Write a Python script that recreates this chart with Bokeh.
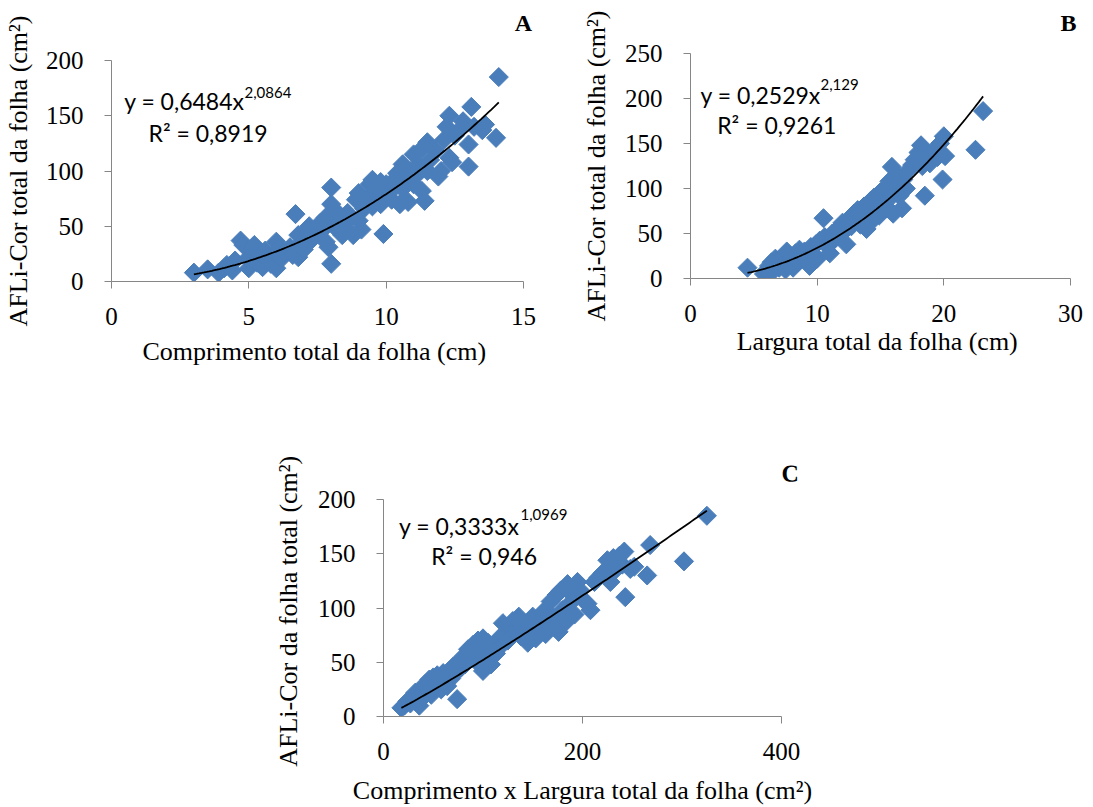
import numpy as np
from bokeh.plotting import figure
from bokeh.models import Range1d, FixedTicker, Label, Spacer, LinearAxis
from bokeh.layouts import column, row
from bokeh.embed import file_html
from bokeh.resources import INLINE

# ---------------- data ----------------
# Panel A: comprimento (cm) vs area (cm2)
a_x = [3.0, 3.5, 3.9, 4.1, 4.2, 4.4, 4.5, 4.7, 4.8, 5.0, 5.0, 5.1, 5.2, 5.3, 5.4, 5.5, 5.6, 5.7, 5.8, 5.9,
       6.0, 6.0, 6.1, 6.2, 6.3, 6.5, 6.6, 6.7, 6.8, 6.8, 6.9, 7.0, 7.1, 7.2, 7.3, 7.5, 7.6, 7.7, 7.8, 7.8,
       7.9, 8.0, 8.0, 8.0, 8.1, 8.2, 8.3, 8.4, 8.5, 8.6, 8.7, 8.8, 8.9, 9.0, 9.0, 9.1, 9.2, 9.3, 9.4, 9.5,
       9.5, 9.6, 9.7, 9.8, 9.8, 9.9, 10.0, 10.1, 10.2, 10.3, 10.4, 10.5, 10.6, 10.6, 10.7, 10.8, 10.9, 11.0,
       11.0, 11.1, 11.2, 11.3, 11.3, 11.4, 11.5, 11.5, 11.6, 11.8, 11.9, 12.0, 12.1, 12.2, 12.3, 12.3, 12.4,
       12.5, 12.7, 12.8, 13.0, 13.0, 13.1, 13.2, 13.5, 13.6, 14.0, 14.1]
a_y = [8, 11, 8, 12, 15, 10, 19, 37, 33, 12, 22, 28, 33, 17, 25, 13, 28, 20, 16, 24,
       36, 12, 30, 21, 26, 31, 24, 61, 22, 42, 35, 29, 46, 50, 38, 44, 53, 47, 36, 58,
       31, 85, 16, 70, 50, 63, 54, 42, 48, 62, 57, 42, 74, 55, 80, 47, 66, 75, 88, 92,
       68, 80, 86, 70, 90, 43, 88, 80, 74, 92, 98, 70, 106, 84, 90, 72, 100, 115,
       88, 96, 105, 82, 120, 73, 126, 100, 110, 118, 95, 100, 128, 140, 150, 112, 108,
       132, 138, 145, 124, 104, 158, 140, 137, 142, 130, 185]
a_coef, a_exp = 0.6484, 2.0864

# Panel B: largura (cm) vs area (cm2)
b_x = [4.5, 5.8, 6.0, 6.2, 6.4, 6.5, 6.7, 6.9, 7.0, 7.2, 7.4, 7.5, 7.6, 7.8, 8.0, 8.1, 8.3, 8.5, 8.6, 8.8,
       9.0, 9.2, 9.4, 9.5, 9.7, 9.9, 10.0, 10.2, 10.5, 10.6, 10.8, 11.0, 11.2, 11.4, 11.6, 11.8, 12.0, 12.1,
       12.3, 12.5, 12.7, 12.9, 13.0, 13.2, 13.4, 13.5, 13.7, 13.9, 14.0, 14.2, 14.4, 14.5, 14.7, 14.9, 15.0,
       15.2, 15.4, 15.5, 15.7, 15.8, 15.9, 16.0, 16.1, 16.3, 16.5, 16.7, 16.8, 17.0, 17.2, 17.5, 17.7, 18.0,
       18.2, 18.3, 18.5, 18.7, 18.9, 19.2, 19.5, 19.7, 19.9, 20.0, 20.1, 22.5, 23.1]
b_y = [12, 5, 9, 14, 18, 8, 22, 15, 12, 20, 26, 10, 30, 16, 22, 12, 28, 18, 32, 25,
       30, 22, 14, 35, 27, 38, 22, 42, 67, 46, 36, 28, 50, 44, 55, 48, 62, 52,
       38, 66, 58, 72, 65, 76, 60, 70, 80, 55, 74, 86, 65, 90, 78, 70, 96,
       84, 100, 78, 108, 90, 124, 72, 102, 115, 92, 78, 110, 100, 120, 126, 132, 140,
       148, 125, 92, 136, 128, 142, 135, 150, 110, 158, 136, 143, 186]
b_coef, b_exp = 0.2529, 2.129

# Panel C: comprimento x largura (cm2) vs area (cm2)
c_x = [18, 21, 24, 27, 30, 32, 35, 36, 38, 40, 42, 44, 46, 48, 50, 52, 54, 56, 58, 60,
       62, 64, 66, 68, 70, 72, 74, 76, 78, 80, 82, 85, 88, 90, 92, 95, 98, 100, 100, 103,
       105, 108, 110, 113, 116, 118, 120, 122, 125, 128, 130, 133, 136, 138, 140, 143, 145, 148, 150, 153,
       156, 158, 160, 163, 166, 168, 170, 172, 174, 176, 178, 180, 182, 185, 187, 190, 192, 195, 198, 200,
       205, 208, 212, 216, 220, 225, 228, 231, 234, 237, 240, 242, 243, 248, 252, 265, 268, 302, 325]
c_y = [8, 10, 14, 12, 18, 22, 20, 10, 16, 26, 30, 24, 34, 20, 36, 28, 38, 32, 25, 40,
       36, 28, 42, 35, 46, 40, 16, 50, 45, 55, 48, 62, 56, 66, 52, 70, 60, 72, 42, 55,
       68, 48, 62, 58, 72, 65, 86, 76, 70, 82, 88, 78, 92, 74, 86, 80, 68, 84, 92, 72,
       88, 80, 96, 76, 86, 106, 92, 82, 112, 78, 116, 98, 86, 122, 104, 112, 94, 124, 116, 108,
       104, 98, 124, 128, 132, 144, 124, 146, 136, 148, 140, 152, 110, 136, 138, 130, 158, 143, 185]
c_coef, c_exp = 0.3333, 1.0969

a_xticks = [0, 5, 10, 15]
a_yticks = [0, 50, 100, 150, 200]
b_xticks = [0, 10, 20, 30]
b_yticks = [0, 50, 100, 150, 200, 250]
c_xticks = [0, 200, 400]
c_yticks = [0, 50, 100, 150, 200]

MARK = "#4A7EBB"
AXIS = "#868686"
SERIF = "Liberation Serif"
SANS = "Lato"


def make_panel(width, height, mb, xr, yr, xticks, yticks, xs, ys, coef, expo,
               xlabel, ylabel, letter, eq_main, eq_sup, r2, pos, stand, letter_tick, letter_orient):
    p = figure(width=width, height=height, x_range=Range1d(*xr), y_range=Range1d(*yr),
               min_border_left=mb[0], min_border_right=mb[1], min_border_top=mb[2],
               min_border_bottom=mb[3], output_backend="svg", toolbar_location=None,
               title=None)
    try:
        p.frame_align = False
    except Exception:
        pass
    p.grid.visible = False
    p.outline_line_color = None
    p.background_fill_color = "white"
    p.border_fill_color = "white"
    p.xaxis.ticker = FixedTicker(ticks=xticks)
    p.yaxis.ticker = FixedTicker(ticks=yticks)
    for ax in (p.xaxis[0], p.yaxis[0]):
        ax.axis_line_color = AXIS
        ax.major_tick_line_color = AXIS
        ax.minor_tick_line_color = None
        ax.major_tick_out = 7
        ax.major_tick_in = 0
        ax.major_label_text_font = SERIF
        ax.major_label_text_font_size = "25px"
        ax.major_label_text_color = "black"
        ax.axis_label_text_font = SERIF
        ax.axis_label_text_font_size = "26px"
        ax.axis_label_text_font_style = "normal"
        ax.axis_label_text_color = "black"
    p.xaxis.major_label_standoff = 19
    p.yaxis.major_label_standoff = 21
    p.xaxis.axis_label = xlabel
    p.yaxis.axis_label = ylabel
    p.xaxis.axis_label_standoff = stand[0]
    p.yaxis.axis_label_standoff = stand[1]

    # panel letter, drawn as the tick label of a hidden top axis near the frame's right edge
    p.extra_x_ranges = {"letter": Range1d(0, 1)}
    lax = LinearAxis(x_range_name="letter", ticker=FixedTicker(ticks=[letter_tick]),
                     major_label_overrides={letter_tick: letter})
    lax.axis_line_color = None
    lax.major_tick_line_color = None
    lax.minor_tick_line_color = None
    lax.major_tick_out = 0
    lax.major_tick_in = 0
    lax.major_label_standoff = stand[2]
    lax.major_label_text_font = SERIF
    lax.major_label_text_font_size = "24px"
    lax.major_label_text_font_style = "bold"
    lax.major_label_text_color = "black"
    if letter_orient is not None:
        lax.major_label_orientation = letter_orient
    p.add_layout(lax, "above")

    p.scatter(xs, ys, marker="square", angle=np.pi / 4, size=13.5,
              fill_color=MARK, line_color=MARK)
    tx = np.linspace(min(xs), max(xs), 120)
    p.line(tx, coef * tx ** expo, line_color="black", line_width=1.8)

    (mx, my), (sx, sy), (rx, ry) = pos
    p.add_layout(Label(x=mx, y=my, x_units="screen", y_units="screen", text=eq_main,
                       text_font=SANS, text_font_size="23px", text_color="black",
                       text_baseline="alphabetic"))
    p.add_layout(Label(x=sx, y=sy, x_units="screen", y_units="screen", text=eq_sup,
                       text_font=SANS, text_font_size="15px", text_color="black",
                       text_baseline="alphabetic"))
    p.add_layout(Label(x=rx, y=ry, x_units="screen", y_units="screen", text=r2,
                       text_font=SANS, text_font_size="23px", text_color="black",
                       text_baseline="alphabetic"))
    return p


pA = make_panel(545, 390, (110, 22, 60, 109), (0, 15), (0, 200), a_xticks, a_yticks,
                a_x, a_y, a_coef, a_exp,
                "Comprimento total da folha  (cm)", "AFLi-Cor total da folha (cm²)", "A",
                "y = 0,6484x", "2,0864", "R² = 0,8919",
                ((12.7, 180.3), (133, 188.7), (37, 149)), (9, 10, 25), 1, None)

pB = make_panel(548, 390, (145, 23, 53, 112), (0, 30), (0, 250), b_xticks, b_yticks,
                b_x, b_y, b_coef, b_exp,
                "Largura  total da folha (cm)", "AFLi-Cor total da folha (cm²)", "B",
                "y = 0,2529x", "2,129", "R² = 0,9261",
                ((10, 183.3), (130, 194), (26.7, 154)), (2, 11, 18), 0.995, None)

pC = make_panel(560, 417, (113, 49, 109, 87), (0, 400), (0, 200), c_xticks, c_yticks,
                c_x, c_y, c_coef, c_exp,
                "Comprimento x Largura total da folha (cm²)", "AFLi-Cor  da folha total (cm²)", "C",
                "y = 0,3333x", "1,0969", "R² = 0,946",
                ((15.6, 191), (137, 202), (47.7, 161)), (13, 12, 26), 1, 0.001)

layout = column(row(pA, pB), row(Spacer(width=270, height=417), pC))

open("out.html", "w").write(file_html(layout, INLINE))
